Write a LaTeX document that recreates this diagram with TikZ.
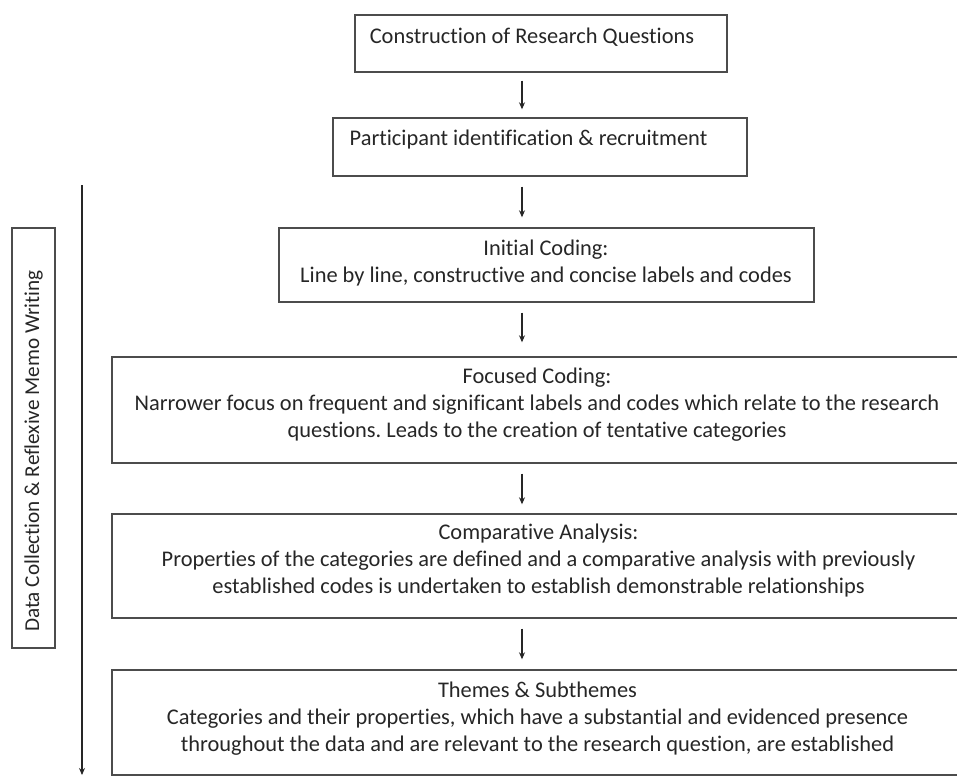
\documentclass[tikz,border=0pt]{standalone}
\usepackage{fontspec}
\setmainfont[Ligatures={NoCommon}]{Carlito}
\usetikzlibrary{arrows.meta}
\frenchspacing
\begin{document}
\begin{tikzpicture}[x=1pt,y=-1pt,
  box/.style={draw=black!70, line width=1.4pt, rectangle, inner sep=0pt},
  txt/.style={text=black!85, font=\fontsize{22.4}{27}\selectfont, align=center, inner sep=0pt},
  arr/.style={draw=black!85, line width=1.1pt, -{Stealth[length=7pt,width=6pt]}}]
\useasboundingbox (0,0) rectangle (957,777);
% boxes
\node[box, minimum width=372pt, minimum height=57pt] (b1) at (541,43.5) {};
\node[box, minimum width=414pt, minimum height=58pt] (b2) at (540,147) {};
\node[box, minimum width=535pt, minimum height=74pt] (b3) at (546.5,265) {};
\node[box, minimum width=856pt, minimum height=106pt] (b4) at (540,410) {};
\node[box, minimum width=856pt, minimum height=104pt] (b5) at (540,566) {};
\node[box, minimum width=856pt, minimum height=105pt] (b6) at (540,722.5) {};
% texts
\node[txt] (t1) at (532,37) {Construction of Research Questions};
\node[txt] (t2) at (528.5,140) {Participant identification \& recruitment};
\node[txt] (t3) at (546,263.5) {Initial Coding:\\Line by line, constructive and concise labels and codes};
\node[txt] (t4) at (537,404.5) {Focused Coding:\\Narrower focus on frequent and significant labels and codes which relate to the research\\questions. Leads to the creation of tentative categories};
\node[txt] (t5) at (538.5,560.5) {Comparative Analysis:\\Properties of the categories are defined and a comparative analysis with previously\\established codes is undertaken to establish demonstrable relationships};
\node[txt] (t6) at (537.5,718.5) {Themes \& Subthemes\\Categories and their properties, which have a substantial and evidenced presence\\throughout the data and are relevant to the research question, are established};
% arrows
\coordinate (ax) at (522,0);
\draw[arr, shorten <=8pt, shorten >=8pt] (b1.south -| ax) -- (b2.north -| ax);
\draw[arr, shorten <=10pt, shorten >=10pt] (b2.south -| ax) -- (b3.north -| ax);
\draw[arr, shorten <=10pt, shorten >=14pt] (b3.south -| ax) -- (b4.north -| ax);
\draw[arr, shorten <=10pt, shorten >=9pt] (b4.south -| ax) -- (b5.north -| ax);
\draw[arr, shorten <=10pt, shorten >=10pt] (b5.south -| ax) -- (b6.north -| ax);
% side bar
\node[box, minimum width=43pt, minimum height=420pt] (side) at (33.5,438) {};
\node[txt, rotate=90, font=\fontsize{21.2}{24}\selectfont] (st) at (33.5,451) {Data Collection \& Reflexive Memo Writing};
\coordinate (ls) at (82,185);
\coordinate (le) at (82,775);
\draw[arr] (ls) -- (le);
\end{tikzpicture}
\end{document}
